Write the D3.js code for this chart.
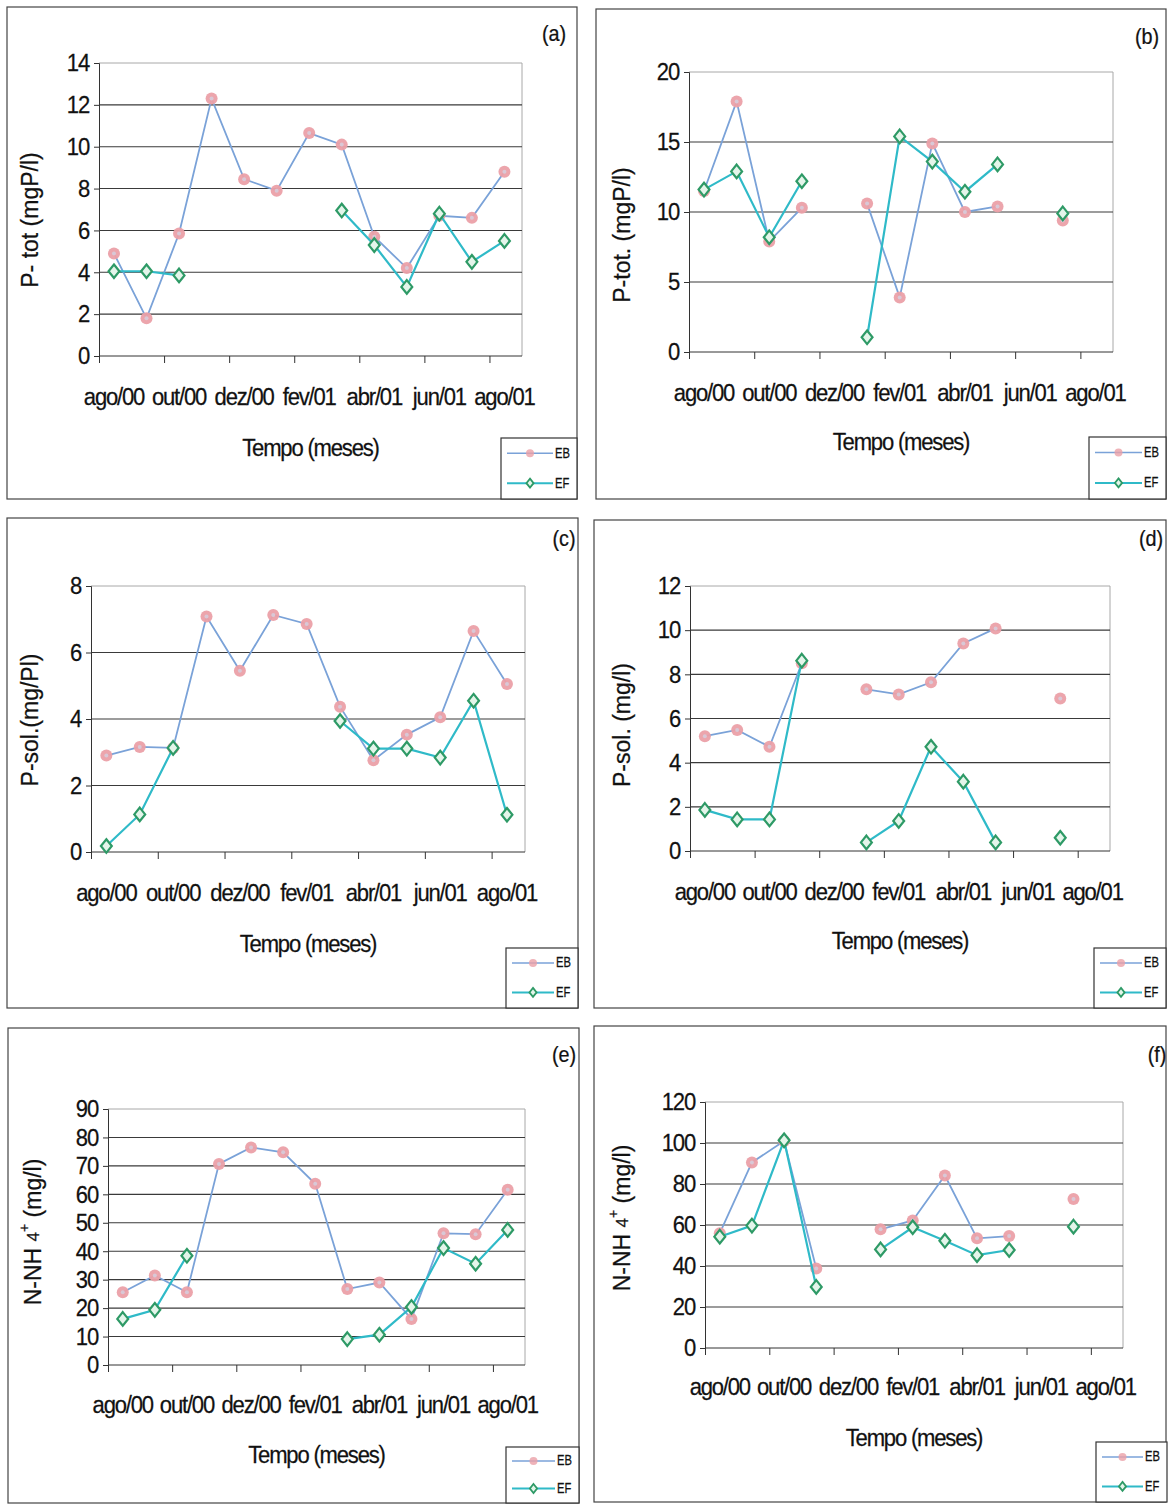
<!DOCTYPE html>
<html><head><meta charset="utf-8">
<script src="https://cdn.jsdelivr.net/npm/d3@7"></script>
<style>body{margin:0;background:#fff}svg{display:block}</style>
</head><body>
<svg id="c" width="1168" height="1504"></svg>
<script>
// ---------- DATA ----------
const months = ["ago/00","set/00","out/00","nov/00","dez/00","jan/01","fev/01","mar/01","abr/01","mai/01","jun/01","jul/01","ago/01"];
const xTickLabels = ["ago/00","out/00","dez/00","fev/01","abr/01","jun/01","ago/01"];
const seriesNames = ["EB","EF"];

const ptotEB_a = [4.9,1.8,5.85,12.3,8.45,7.9,10.65,10.1,5.7,4.2,6.7,6.6,8.8];
const ptotEF_a = [4.05,4.05,3.85,null,null,null,null,6.95,5.3,3.3,6.8,4.5,5.5];
const ptotEB_b = [11.5,17.9,7.9,10.3,null,10.6,3.9,14.9,10.0,10.4,null,9.4,null];
const ptotEF_b = [11.6,12.9,8.2,12.2,null,1.05,15.4,13.6,11.45,13.4,null,9.9,null];
const psolEB_c = [2.9,3.16,3.13,7.08,5.45,7.13,6.86,4.37,2.76,3.53,4.05,6.65,5.05];
const psolEF_c = [0.18,1.13,3.13,null,null,null,null,3.94,3.11,3.11,2.84,4.55,1.12];
const psolEB_d = [5.2,5.48,4.72,8.5,null,7.32,7.09,7.64,9.4,10.08,null,6.91,null];
const psolEF_d = [1.86,1.43,1.43,8.62,null,0.39,1.36,4.72,3.14,0.39,null,0.6,null];
const nnhEB_e = [25.6,31.5,25.6,70.7,76.5,74.8,63.7,26.7,29.0,16.2,46.3,46.0,61.6];
const nnhEF_e = [16.2,19.4,38.4,null,null,null,null,9.1,10.65,20.4,41.1,35.6,47.5];
const nnhEB_f = [56,90.5,101,38.8,null,57.9,62.2,84.1,53.5,54.6,null,72.7,null];
const nnhEF_f = [54.3,59.7,101.3,29.8,null,48.1,58.9,52.3,45.3,47.8,null,59.2,null];

const yTicks_a = [0,2,4,6,8,10,12,14];
const yTicks_b = [0,5,10,15,20];
const yTicks_c = [0,2,4,6,8];
const yTicks_d = [0,2,4,6,8,10,12];
const yTicks_e = [0,10,20,30,40,50,60,70,80,90];
const yTicks_f = [0,20,40,60,80,100,120];

// ---------- LAYOUT ----------
const panels = [
  {id:"(a)", eb:ptotEB_a, ef:ptotEF_a, ticks:yTicks_a, ytitle:["P- tot (mgP/l)"],
   frame:[7,7,577,499], plot:[99,63,522,356], yt:[30,220], xl:397, xt:448, lab:[554,33], leg:[501,438,577,499]},
  {id:"(b)", eb:ptotEB_b, ef:ptotEF_b, ticks:yTicks_b, ytitle:["P-tot. (mgP/l)"],
   frame:[596,9,1166,499], plot:[689,72,1113,352], yt:[622,235], xl:393, xt:442, lab:[1147,36], leg:[1089,437,1166,499]},
  {id:"(c)", eb:psolEB_c, ef:psolEF_c, ticks:yTicks_c, ytitle:["P-sol.(mg/Pl)"],
   frame:[7,518,578,1008], plot:[91,586,525,852], yt:[30,720], xl:893, xt:944, lab:[564,538], leg:[506,948,578,1008]},
  {id:"(d)", eb:psolEB_d, ef:psolEF_d, ticks:yTicks_d, ytitle:["P-sol. (mg/l)"],
   frame:[594,520,1166,1008], plot:[690,586,1110,851], yt:[622,725], xl:892, xt:941, lab:[1151,538], leg:[1094,948,1166,1008]},
  {id:"(e)", eb:nnhEB_e, ef:nnhEF_e, ticks:yTicks_e, ytitle:null,
   frame:[8,1028,579,1503], plot:[108,1109,525,1365], yt:[33,1232], xl:1405, xt:1455, lab:[564,1054], leg:[506,1447,579,1503]},
  {id:"(f)", eb:nnhEB_f, ef:nnhEF_f, ticks:yTicks_f, ytitle:null,
   frame:[594,1026,1166,1502], plot:[705,1102,1123,1348], yt:[622,1218], xl:1387, xt:1438, lab:[1157,1054], leg:[1096,1442,1167,1502]}
];

const FONT = "Liberation Sans, Arial, sans-serif";
const SX = 0.92;
const EB_LINE = "#7aa2d8", EF_LINE = "#2fbac8";
const EB_FILL = "#eba0a8", EF_STROKE = "#2e9a66";
const OFF = 0.46;

const svg = d3.select("#c");

function txt(g, x, y, s, size, anchor, sx, ls){
  return g.append("text")
    .attr("transform", `translate(${x},${y}) scale(${sx==null?SX:sx},1)`)
    .attr("font-family", FONT).attr("font-size", size)
    .attr("letter-spacing", ls==null ? -1.3 : ls)
    .attr("text-anchor", anchor||"middle")
    .attr("dominant-baseline", "central")
    .attr("fill", "#111").attr("stroke","#111").attr("stroke-width",0.25).text(s);
}

function ebMarker(g, x, y){
  g.append("circle").attr("cx",x).attr("cy",y).attr("r",6).attr("fill",EB_FILL).attr("opacity",0.95);
  g.append("circle").attr("cx",x).attr("cy",y).attr("r",2).attr("fill","#d9c8d6");
}
function efMarker(g, x, y){
  const s = 6.8;
  g.append("path").attr("d",`M${x},${y-s}L${x+s*0.8},${y}L${x},${y+s}L${x-s*0.8},${y}Z`)
    .attr("fill","#e4f5ea").attr("stroke",EF_STROKE).attr("stroke-width",2.2);
}

panels.forEach(p => {
  const g = svg.append("g");
  const [fx0,fy0,fx1,fy1] = p.frame;
  g.append("rect").attr("x",fx0).attr("y",fy0).attr("width",fx1-fx0).attr("height",fy1-fy0)
    .attr("fill","none").attr("stroke","#444").attr("stroke-width",1.2);

  const [px0,py0,px1,py1] = p.plot;
  const x = d3.scaleLinear().domain([0, months.length]).range([px0, px1]);
  const ymax = d3.max(p.ticks);
  const y = d3.scaleLinear().domain([0, ymax]).range([py1, py0]);

  g.append("path").attr("d",`M${px0},${py0}H${px1}V${py1}`).attr("fill","none").attr("stroke","#a8a8a8").attr("stroke-width",1);
  g.selectAll(null).data(p.ticks.filter(t => t>0 && t<ymax)).join("line")
    .attr("x1",px0).attr("x2",px1).attr("y1",d=>y(d)).attr("y2",d=>y(d))
    .attr("stroke","#3a3a3a").attr("stroke-width",1.1);

  const yAxis = d3.axisLeft(y).tickValues(p.ticks).tickSize(5).tickFormat("");
  const ya = g.append("g").attr("transform",`translate(${px0},0)`).call(yAxis);
  ya.selectAll("path,line").attr("stroke","#333");
  p.ticks.forEach(t => txt(g, px0-10, y(t), String(t), 24, "end"));

  const xt = d3.range(0, months.length, 2);
  const xAxis = d3.axisBottom(x).tickValues(xt).tickSize(7).tickSizeOuter(0).tickFormat("");
  const xa = g.append("g").attr("transform",`translate(0,${py1})`).call(xAxis);
  xa.selectAll("path,line").attr("stroke","#333");
  xa.select("path").attr("d",`M${px0},0H${px1}`);
  xTickLabels.forEach((l,i) => txt(g, x(xt[i]+OFF), p.xl, l, 24, "middle"));

  txt(g, (px0+px1)/2, p.xt, "Tempo (meses)", 24, "middle");
  const yt = g.append("text").attr("transform",`translate(${p.yt[0]},${p.yt[1]}) rotate(-90)`)
    .attr("font-family",FONT).attr("font-size",23).attr("text-anchor","middle")
    .attr("dominant-baseline","central").attr("fill","#111").attr("stroke","#111").attr("stroke-width",0.25);
  if (p.ytitle) yt.text(p.ytitle[0]);
  else {
    yt.append("tspan").text("N-NH  ");
    yt.append("tspan").attr("font-size",17).text("4");
    yt.append("tspan").attr("font-size",14).attr("dy",-9).text("+");
    yt.append("tspan").attr("dy",9).text(" (mg/l)");
  }
  txt(g, p.lab[0], p.lab[1], p.id, 22, "middle", 0.9, 0);

  const line = d3.line().defined(d => d.v != null).x(d => x(d.i+OFF)).y(d => y(d.v));
  const ebd = p.eb.map((v,i)=>({i,v})), efd = p.ef.map((v,i)=>({i,v}));
  g.append("path").datum(ebd).attr("d",line).attr("fill","none").attr("stroke",EB_LINE).attr("stroke-width",1.8);
  ebd.filter(d=>d.v!=null).forEach(d => ebMarker(g, x(d.i+OFF), y(d.v)));
  g.append("path").datum(efd).attr("d",line).attr("fill","none").attr("stroke",EF_LINE).attr("stroke-width",2.2);
  efd.filter(d=>d.v!=null).forEach(d => efMarker(g, x(d.i+OFF), y(d.v)));

  const [lx0,ly0,lx1,ly1] = p.leg;
  g.append("rect").attr("x",lx0).attr("y",ly0).attr("width",lx1-lx0).attr("height",ly1-ly0)
    .attr("fill","#fff").attr("stroke","#333").attr("stroke-width",1.2);
  const rows = [ly0 + (ly1-ly0)*0.25, ly0 + (ly1-ly0)*0.74];
  seriesNames.forEach((n,k) => {
    const ry = rows[k];
    const a = lx0+6, b = lx1-24;
    g.append("line").attr("x1",a).attr("x2",b).attr("y1",ry).attr("y2",ry)
      .attr("stroke", k===0?EB_LINE:EF_LINE).attr("stroke-width", k===0?1.6:2);
    if (k===0) {
      g.append("circle").attr("cx",(a+b)/2).attr("cy",ry).attr("r",4).attr("fill",EB_FILL).attr("opacity",0.8);
    } else {
      const s=4.5, cx=(a+b)/2;
      g.append("path").attr("d",`M${cx},${ry-s}L${cx+s*0.8},${ry}L${cx},${ry+s}L${cx-s*0.8},${ry}Z`)
        .attr("fill","#e4f5ea").attr("stroke",EF_STROKE).attr("stroke-width",1.8);
    }
    txt(g, b+2, ry, n, 14, "start", 0.8, 0);
  });
});
</script>
</body></html>
